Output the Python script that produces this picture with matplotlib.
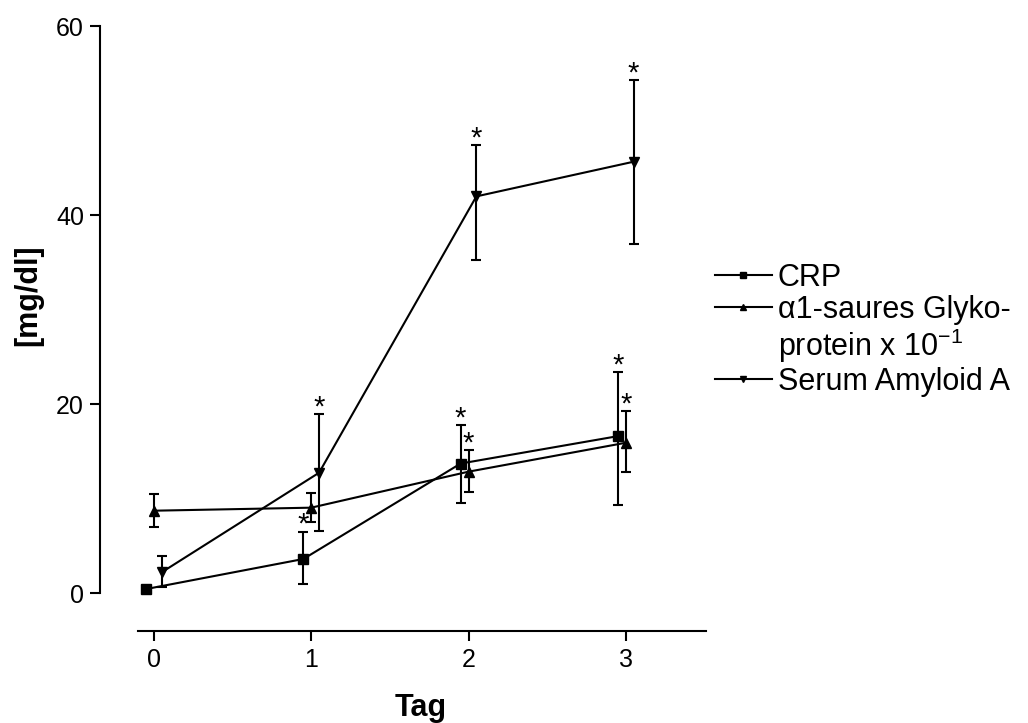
import matplotlib
matplotlib.use("Agg")
import matplotlib.pyplot as plt
from matplotlib.lines import Line2D
import numpy as np

plt.rcParams['font.family'] = ['Liberation Sans', 'DejaVu Sans']
plt.rcParams['mathtext.default'] = 'regular'

# ---- data ----
days = [0, 1, 2, 3]
tick_labels = ['0', '1', '2', '3']

crp_mean = [0.42, 3.6, 13.7, 16.6]
crp_low = [0.2, 0.92, 9.52, 9.31]
crp_high = [0.6, 6.5, 17.78, 23.35]
crp_star = [False, True, True, True]

agp_mean = [8.71, 9.03, 12.84, 15.9]
agp_low = [7.02, 7.55, 10.72, 12.84]
agp_high = [10.48, 10.55, 15.1, 19.26]
agp_star = [False, False, True, True]

saa_mean = [2.2, 12.73, 41.97, 45.64]
saa_low = [0.6, 6.6, 35.2, 36.9]
saa_high = [3.9, 18.94, 47.4, 54.25]
saa_star = [False, True, True, True]

labels = ['CRP', 'α1-saures Glyko-', 'protein x 10$^{-1}$', 'Serum Amyloid A']

# ---- figure ----
W, H = 1028, 723
fig = plt.figure(figsize=(W / 100, H / 100), dpi=100)
ax = fig.add_axes([100 / W, (H - 631) / H, (706 - 100) / W, (631 - 26) / H])

series = [
    (crp_mean, crp_low, crp_high, crp_star, 's', -0.05),
    (agp_mean, agp_low, agp_high, agp_star, '^', 0.0),
    (saa_mean, saa_low, saa_high, saa_star, 'v', 0.05),
]

handles = []
for mean, low, high, star, mk, off in series:
    x = np.array(days, dtype=float) + off
    m = np.array(mean)
    yerr = np.vstack([m - np.array(low), np.array(high) - m])
    ax.errorbar(x, m, yerr=yerr, color='black', marker=mk, markersize=6.5,
                linewidth=1.5, elinewidth=1.5, capsize=3.6, capthick=1.5,
                zorder=3)
    for xi, hi, s in zip(x, high, star):
        if s:
            ax.annotate('*', xy=(xi, hi), xytext=(0, -1), textcoords='offset points',
                        ha='center', va='baseline', fontsize=21)
    handles.append(Line2D([], [], color='black', marker=mk, markersize=6.5, linewidth=1.5))

# legend: 4 rows, second label line without handle
leg_handles = [handles[0], handles[1], Line2D([], [], linestyle='none'), handles[2]]
leg = ax.legend(leg_handles, labels, loc='upper left',
                bbox_to_anchor=(715 / W, 1 - 263 / H), bbox_transform=fig.transFigure,
                frameon=False, fontsize=22, handlelength=1.86, handletextpad=0.2,
                labelspacing=0.06, borderpad=0, borderaxespad=0, markerscale=0.65)

# axes styling (Prism-like offset axes)
ax.set_xlim(-0.343, 3.51)
ax.set_ylim(-4.02, 60)
ax.spines['top'].set_visible(False)
ax.spines['right'].set_visible(False)
ax.spines['left'].set_bounds(0, 60)
ax.spines['bottom'].set_bounds(-0.102, 3.51)
for s in ['left', 'bottom']:
    ax.spines[s].set_linewidth(1.5)

ax.set_xticks(days)
ax.set_xticklabels(tick_labels)
ax.set_yticks([0, 20, 40, 60])
ax.tick_params(axis='both', direction='out', length=7.5, width=1.5,
               labelsize=18, pad=4)
ax.tick_params(axis='x', pad=5)

ax.set_xlabel('Tag', fontsize=22, fontweight='bold', va='center')
ax.xaxis.set_label_coords((421 - 100) / 606, (631 - 708) / 605)
ax.set_ylabel('[mg/dl]', fontsize=22, fontweight='bold', va='center')
ax.yaxis.set_label_coords((28 - 100) / 606, (631 - 295) / 605)

fig.savefig('out.png', dpi=100)
